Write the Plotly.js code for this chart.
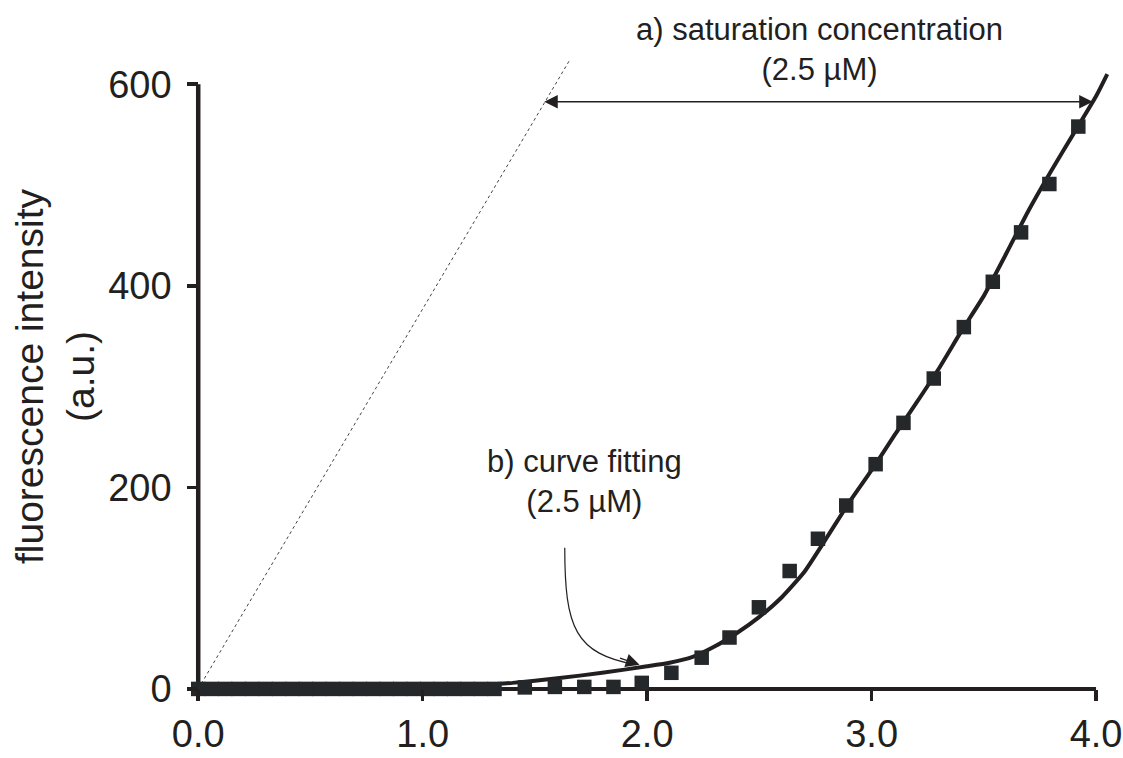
<!DOCTYPE html>
<html>
<head>
<meta charset="utf-8">
<script src="https://cdn.plot.ly/plotly-3.0.1.min.js"></script>
<style>html,body{margin:0;padding:0;background:#fff;}#chart{width:1123px;height:758px;}</style>
</head>
<body>
<div id="chart"></div>
<script>
// measured points (concentration in µM, fluorescence in a.u.)
const measConc = [0, 0.06, 0.12, 0.18, 0.24, 0.30, 0.36, 0.42, 0.48, 0.54, 0.60, 0.66,
  0.72, 0.78, 0.84, 0.90, 0.96, 1.02, 1.08, 1.14, 1.20, 1.26, 1.32,
  1.455, 1.589, 1.72, 1.85, 1.976, 2.108, 2.243, 2.367, 2.498, 2.635, 2.761,
  2.887, 3.018, 3.142, 3.277, 3.411, 3.54, 3.666, 3.792, 3.921];
const measFluor = [0, 0, 0, 0, 0, 0, 0, 0, 0, 0, 0, 0,
  0, 0, 0, 0, 0, 0, 0, 0, 0, 0, 0,
  1.5, 2, 2, 2, 6, 16, 31, 51, 81, 117, 149,
  182, 223, 264, 308, 359, 404, 453, 501, 558];

// fitted curve
const fitConc = [0, 0.5, 1.0, 1.2, 1.4, 1.6, 1.8, 2.0, 2.1, 2.2, 2.3, 2.4, 2.5, 2.6,
  2.7, 2.8, 2.9, 3.0, 3.1, 3.2, 3.3, 3.4, 3.5, 3.6, 3.7, 3.8, 3.9, 4.0, 4.05];
const fitFluor = [0, 0, 1, 3, 6, 10.5, 16, 22.5, 26, 31.5, 42, 55.5, 71.5, 91,
  116, 150, 185, 217, 251, 284, 318, 355, 390, 432, 475, 514, 551, 588, 610];

// initial-slope (dotted) line
const slopeConc = [0, 1.655];
const slopeFluor = [0, 624];

// ticks
const xTickVals = [0, 1, 2, 3, 4];
const xTickText = ['0.0', '1.0', '2.0', '3.0', '4.0'];
const yTickVals = [0, 200, 400, 600];
const yTickText = ['0', '200', '400', '600'];

const ink = '#231f20';
const FONT = 'Liberation Sans, Arial, Helvetica, sans-serif';

const traces = [
  {x: slopeConc, y: slopeFluor, mode: 'lines', type: 'scatter',
   line: {color: '#444', width: 1, dash: 'dot'}, hoverinfo: 'skip', showlegend: false},
  {x: fitConc, y: fitFluor, mode: 'lines', type: 'scatter',
   line: {color: ink, width: 4, shape: 'spline', smoothing: 0.5}, showlegend: false},
  {x: measConc, y: measFluor, mode: 'markers', type: 'scatter', cliponaxis: false,
   marker: {symbol: 'square', size: 14.5, color: '#25282b'}, showlegend: false}
];

const layout = {
  width: 1123, height: 758,
  margin: {l: 187, r: 9, t: 54, b: 59},
  paper_bgcolor: '#fff', plot_bgcolor: '#fff',
  font: {family: FONT, color: ink},
  showlegend: false,
  xaxis: {
    range: [-0.05, 4.08], anchor: 'free', position: 10/640,
    showgrid: false, zeroline: false, showline: false,
    tickmode: 'array', tickvals: xTickVals, ticktext: xTickText,
    ticks: 'outside', ticklen: 11, tickwidth: 3.5, tickcolor: ink,
    tickfont: {size: 38, family: FONT, color: ink}
  },
  yaxis: {
    range: [-10, 630], anchor: 'free', position: 0.05/4.13,
    showgrid: false, zeroline: false, showline: false,
    tickmode: 'array', tickvals: yTickVals, ticktext: yTickText,
    ticks: 'outside', ticklen: 11, tickwidth: 3.5, tickcolor: ink,
    ticklabelstandoff: 8,
    tickfont: {size: 38, family: FONT, color: ink},
    title: {text: 'fluorescence intensity<br>(a.u.)', font: {size: 39, family: FONT, color: ink}, standoff: 0}
  },
  shapes: [
    {type: 'line', xref: 'x', yref: 'y', x0: 0, y0: 0, x1: 4.0, y1: 0,
     line: {color: ink, width: 4}, layer: 'below'},
    {type: 'line', xref: 'x', yref: 'y', x0: 0, y0: 0, x1: 0, y1: 600,
     line: {color: ink, width: 4.5}, layer: 'below'},
    {type: 'path', xref: 'x', yref: 'y', path: 'M 1.633,140 C 1.633,60 1.68,35 1.95,24',
     line: {color: ink, width: 1.2}}
  ],
  annotations: [
    {xref: 'x', yref: 'paper', x: 2.768, y: (699 - 50) / 645, xanchor: 'center', yanchor: 'middle',
     text: 'a) saturation concentration<br>(2.5 µM)', showarrow: false,
     font: {size: 31, family: FONT, color: ink}},
    {xref: 'x', yref: 'y', x: 1.722, y: 206, xanchor: 'center', yanchor: 'middle',
     text: 'b) curve fitting<br>(2.5 µM)', showarrow: false,
     font: {size: 31, family: FONT, color: ink}},
    {xref: 'x', yref: 'y', axref: 'x', ayref: 'y', x: 3.985, y: 582.5, ax: 1.535, ay: 582.5,
     text: '', showarrow: true, arrowside: 'end+start', arrowhead: 2, arrowsize: 1.8,
     arrowwidth: 1.5, arrowcolor: ink},
    {xref: 'x', yref: 'y', x: 1.966, y: 24, ax: -21, ay: -7,
     text: '', showarrow: true, arrowhead: 2, arrowsize: 2.1, arrowwidth: 1.3, arrowcolor: ink}
  ]
};

Plotly.newPlot('chart', traces, layout, {displayModeBar: false, staticPlot: true});
</script>
</body>
</html>
